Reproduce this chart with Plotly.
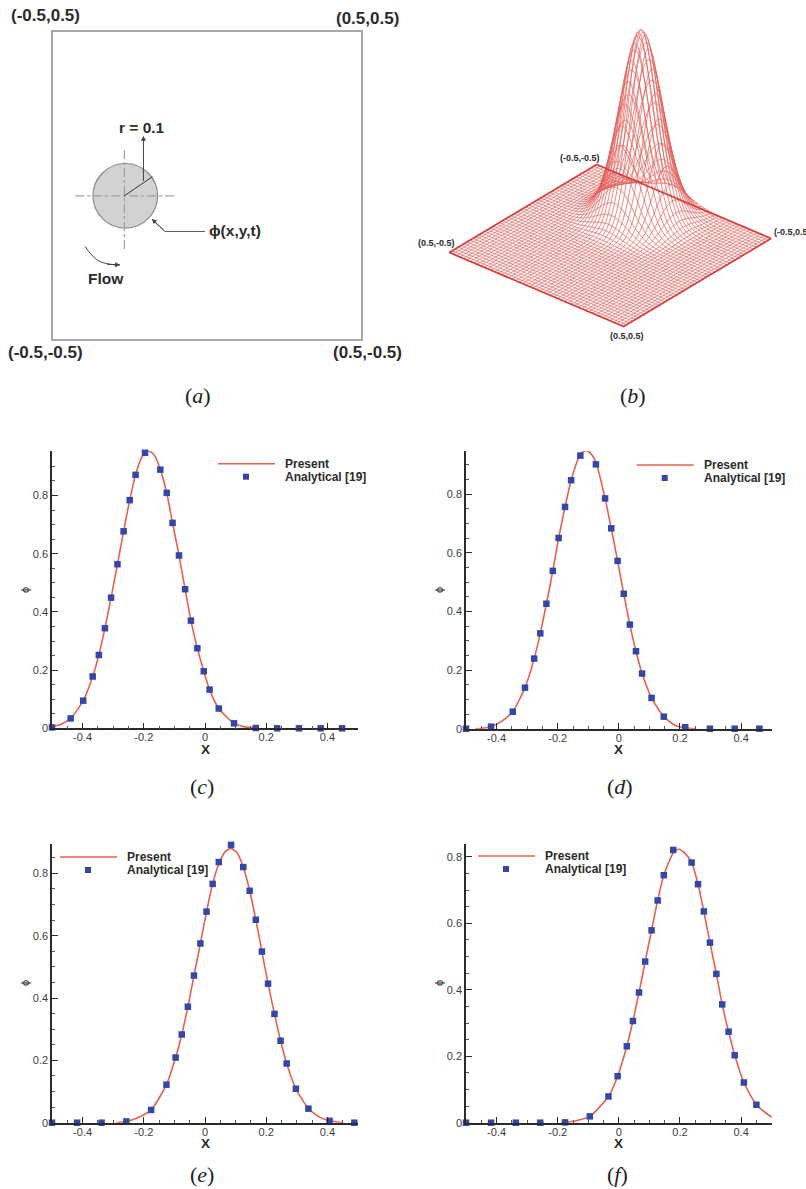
import numpy as np
import plotly.graph_objects as go

W, H = 806, 1189
SANS = "Liberation Sans"
SERIF = "Liberation Serif"
INK = "#2b2b2b"
RED = "#e8604c"
BLUE = "#3447a8"
WIRE = "#e4605a"
WIRE_EDGE = "#d93c3c"

# --- panel (c)
c_mx = [-0.5,-0.439,-0.398,-0.367,-0.347,-0.327,-0.307,-0.286,-0.266,-0.246,-0.227,-0.196,-0.146,-0.125,-0.106,-0.085,-0.065,-0.046,-0.025,-0.004,0.015,0.045,0.095,0.166,0.236,0.307,0.378,0.448]
c_my = [0.003,0.034,0.095,0.178,0.252,0.344,0.449,0.564,0.677,0.784,0.871,0.947,0.889,0.809,0.706,0.594,0.478,0.370,0.275,0.196,0.133,0.068,0.017,0.001,0,0,0,0]
c_lx = [-0.5,-0.47,-0.439,-0.398,-0.367,-0.347,-0.327,-0.307,-0.286,-0.266,-0.246,-0.227,-0.205,-0.183,-0.165,-0.146,-0.125,-0.106,-0.085,-0.065,-0.046,-0.025,-0.004,0.015,0.045,0.095,0.13,0.166]
c_ly = [0.005,0.014,0.034,0.095,0.178,0.252,0.344,0.449,0.564,0.677,0.784,0.871,0.935,0.953,0.938,0.889,0.809,0.706,0.594,0.478,0.370,0.275,0.196,0.133,0.068,0.017,0.005,0.001]

# --- panel (d)
d_mx = [-0.5,-0.418,-0.347,-0.307,-0.277,-0.257,-0.237,-0.216,-0.197,-0.176,-0.156,-0.126,-0.075,-0.045,-0.025,-0.004,0.016,0.036,0.056,0.076,0.107,0.147,0.217,0.298,0.379,0.460]
d_my = [0,0.007,0.058,0.140,0.239,0.325,0.426,0.538,0.650,0.756,0.847,0.931,0.901,0.785,0.683,0.572,0.460,0.355,0.264,0.188,0.105,0.041,0.005,0,0,0]
d_lx = [-0.47,-0.45,-0.418,-0.385,-0.347,-0.307,-0.277,-0.257,-0.237,-0.216,-0.197,-0.176,-0.156,-0.126,-0.115,-0.105,-0.09,-0.075,-0.045,-0.025,-0.004,0.016,0.036,0.056,0.076,0.107,0.147,0.185,0.217,0.25]
d_ly = [0,0.001,0.007,0.024,0.058,0.140,0.239,0.325,0.426,0.538,0.650,0.756,0.847,0.936,0.945,0.948,0.936,0.908,0.785,0.683,0.572,0.460,0.355,0.264,0.188,0.105,0.041,0.011,0.003,0]

# --- panel (e)
e_mx = [-0.5,-0.418,-0.338,-0.257,-0.176,-0.126,-0.096,-0.076,-0.056,-0.036,-0.015,0.005,0.025,0.045,0.085,0.125,0.146,0.166,0.186,0.206,0.227,0.247,0.267,0.297,0.338,0.407,0.488]
e_my = [0,0,0,0.004,0.041,0.122,0.209,0.283,0.372,0.472,0.575,0.677,0.766,0.836,0.891,0.820,0.744,0.651,0.549,0.446,0.349,0.263,0.190,0.109,0.045,0.006,0]
e_lx = [-0.29,-0.257,-0.22,-0.176,-0.126,-0.096,-0.076,-0.056,-0.036,-0.015,0.005,0.025,0.045,0.065,0.085,0.105,0.125,0.146,0.166,0.186,0.206,0.227,0.247,0.267,0.297,0.338,0.375,0.407,0.45]
e_ly = [0,0.004,0.016,0.041,0.122,0.209,0.283,0.372,0.472,0.575,0.677,0.766,0.830,0.868,0.880,0.866,0.820,0.744,0.651,0.549,0.446,0.349,0.263,0.190,0.109,0.045,0.017,0.006,0]

# --- panel (f)
f_mx = [-0.5,-0.418,-0.337,-0.257,-0.176,-0.095,-0.034,-0.004,0.026,0.046,0.066,0.086,0.107,0.127,0.147,0.178,0.238,0.259,0.278,0.298,0.319,0.338,0.359,0.379,0.409,0.450]
f_my = [0,0,0,0,0.001,0.019,0.079,0.140,0.230,0.306,0.392,0.485,0.579,0.669,0.745,0.821,0.783,0.718,0.636,0.542,0.448,0.356,0.274,0.203,0.121,0.054]
f_lx = [-0.19,-0.176,-0.14,-0.095,-0.034,-0.004,0.026,0.046,0.066,0.086,0.107,0.127,0.147,0.178,0.195,0.215,0.238,0.259,0.278,0.298,0.319,0.338,0.359,0.379,0.409,0.450,0.5]
f_ly = [0,0.001,0.006,0.019,0.079,0.140,0.230,0.306,0.392,0.485,0.579,0.669,0.745,0.812,0.823,0.812,0.783,0.718,0.636,0.542,0.448,0.356,0.274,0.203,0.121,0.054,0.016]

# --- panel (b): bell profile by grid step from the peak, read from the silhouette
bell = [1,0.977,0.912,0.812,0.691,0.561,0.435,0.322,0.228,0.154,0.099,0.061,0.036,0.020,0.011,0.0055,0.0027,0.0012,0.0006,0.0002]
grid_n = 51
peak_i, peak_j = 11, 22
u, v, w = (-147.4, 88.0), (174.3, 74.0), (0.0, -187.0)
origin = (610.2, 245.5)

def px(x):
    return x / W

def py(y):
    return 1 - y / H

def dom_x(a, b):
    return [px(a), px(b)]

def dom_y(top, bottom):
    return [py(bottom), py(top)]

def text(x, y, s, size=11, **kw):
    base = dict(x=px(x), y=py(y), xref="paper", yref="paper", text=s, showarrow=False,
                font=dict(family=SANS, size=size, color=INK), xanchor="center", yanchor="middle")
    base.update(kw)
    return base

fig = go.Figure()
panels = [
    ("x", "y", c_lx, c_ly, c_mx, c_my),
    ("x2", "y2", d_lx, d_ly, d_mx, d_my),
    ("x3", "y3", e_lx, e_ly, e_mx, e_my),
    ("x4", "y4", f_lx, f_ly, f_mx, f_my),
]
for xa, ya, lx, ly, mx, my in panels:
    fig.add_trace(go.Scatter(x=lx, y=ly, mode="lines", name="Present", xaxis=xa, yaxis=ya, showlegend=False,
                             line=dict(color=RED, width=1.6, shape="spline", smoothing=0.6), cliponaxis=False))
    fig.add_trace(go.Scatter(x=mx, y=my, mode="markers", name="Analytical [19]", xaxis=xa, yaxis=ya, showlegend=False,
                             marker=dict(color=BLUE, size=6.5, symbol="square"), cliponaxis=False))

# panel (a) schematic
def a_line(xs, ys, **kw):
    fig.add_trace(go.Scatter(x=xs, y=ys, mode="lines", xaxis="x5", yaxis="y5", showlegend=False, **kw))

a_line([-0.429, -0.104], [-0.033, -0.033], line=dict(color="#a0a0a0", width=1.2, dash="dashdot"))
a_line([-0.269, -0.269], [0.116, -0.209], line=dict(color="#a0a0a0", width=1.2, dash="dashdot"))
a_line([-0.269, -0.178], [-0.033, 0.029], line=dict(color="#333333", width=1))
a_line([-0.007, -0.137, -0.172], [-0.149, -0.149, -0.117], line=dict(color="#555555", width=1))
a_line([-0.397, -0.359, -0.325, -0.283], [-0.198, -0.241, -0.254, -0.258], line=dict(color="#444444", width=1, shape="spline"))

# panel (b) wireframe
idx = np.arange(grid_n)
gx = np.linspace(-0.5, 0.5, grid_n)
gy = np.linspace(-0.5, 0.5, grid_n)
bell_arr = np.array(bell)
def prof(center):
    d = np.abs(idx - center)
    return np.where(d < len(bell_arr), bell_arr[np.minimum(d, len(bell_arr) - 1)], 0.0)
Z = np.outer(prof(peak_i), prof(peak_j))
X, Y = np.meshgrid(gx, gy, indexing="ij")
SX = origin[0] + u[0] * X + v[0] * Y + w[0] * Z
SY = origin[1] + u[1] * X + v[1] * Y + w[1] * Z

def seg(a, b):
    xs, ys = [], []
    for i in range(a.shape[0]):
        xs += a[i].tolist() + [None]
        ys += b[i].tolist() + [None]
    return xs, ys
sx1, sy1 = seg(SX, SY)
sx2, sy2 = seg(SX.T, SY.T)
fig.add_trace(go.Scatter(x=sx1 + sx2, y=sy1 + sy2, mode="lines", xaxis="x6", yaxis="y6", showlegend=False,
                         line=dict(color=WIRE, width=0.75, shape="spline", smoothing=0.5)))
edge_x = [SX[0, 0], SX[-1, 0], SX[-1, -1], SX[0, -1], SX[0, 0]]
edge_y = [SY[0, 0], SY[-1, 0], SY[-1, -1], SY[0, -1], SY[0, 0]]
fig.add_trace(go.Scatter(x=edge_x, y=edge_y, mode="lines", xaxis="x6", yaxis="y6", showlegend=False,
                         line=dict(color=WIRE_EDGE, width=1.7)))

xticks = [-0.4, -0.2, 0, 0.2, 0.4]
xlabels = ["-0.4", "-0.2", "0", "0.2", "0.4"]
yticks = [0, 0.2, 0.4, 0.6, 0.8]
ylabels = ["0", "0.2", "0.4", "0.6", "0.8"]

def xaxis(a, b, anchor):
    return dict(domain=dom_x(a, b), anchor=anchor, range=[-0.5, 0.5], showgrid=False, zeroline=False,
                showline=True, linecolor=INK, linewidth=1.5, ticks="inside", ticklen=6, tickwidth=1.3,
                tickcolor=INK, tickvals=xticks, ticktext=xlabels, tickfont=dict(family=SANS, size=11, color="#3c3c3c"),
                ticklabelstandoff=-2,
                minor=dict(ticks="inside", ticklen=3, tickwidth=0.8, tickcolor="#555555", tickvals=[round(-0.45 + 0.05 * k, 2) for k in range(19)]))

def yaxis(top, bottom, ymax, anchor):
    return dict(domain=dom_y(top, bottom), anchor=anchor, range=[0, ymax], showgrid=False, zeroline=False,
                showline=True, linecolor=INK, linewidth=1.5, ticks="inside", ticklen=6, tickwidth=1.3,
                tickcolor=INK, tickvals=yticks, ticktext=ylabels, tickfont=dict(family=SANS, size=11, color="#3c3c3c"),
                minor=dict(ticks="inside", ticklen=3, tickwidth=0.8, tickcolor="#555555", tickvals=[round(0.05 * k, 2) for k in range(1, 19)]))

blank = dict(showgrid=False, zeroline=False, showticklabels=False, ticks="")

annos = []
for x, y, s in [(45, 16, "(-0.5,0.5)"), (367, 19, "(0.5,0.5)"), (45, 352, "(-0.5,-0.5)"), (367, 352, "(0.5,-0.5)")]:
    annos.append(text(x, y, f"<b>{s}</b>", size=17))
for x, y, s in [(142, 127, "r = 0.1"), (235, 231, "ϕ(x,y,t)"), (106, 279, "Flow")]:
    annos.append(text(x, y, f"<b>{s}</b>", size=15.5))
for x, y, s, anc in [(580, 158, "(-0.5,-0.5)", "center"), (437, 243, "(0.5,-0.5)", "center"), (627, 336, "(0.5,0.5)", "center"), (772, 232, "(-0.5,0.5)", "left")]:
    annos.append(text(x, y, f"<b>{s}</b>", size=9, xanchor=anc))
for x, y, s in [(198, 395, "a"), (633, 395, "b"), (202, 786, "c"), (620, 786, "d"), (202, 1174, "e"), (617, 1174, "f")]:
    annos.append(text(x, y, f"(<i>{s}</i>)", font=dict(family=SERIF, size=22, color="#222222")))
for x, y in [(25, 590), (439, 590), (25, 983), (439, 983)]:
    annos.append(text(x, y, "ϕ", textangle=-90, font=dict(family=SANS, size=11, color=INK)))
for x, y in [(205, 749), (618, 749), (205, 1143), (618, 1143)]:
    annos.append(text(x, y, "<b>X</b>", font=dict(family=SANS, size=13.5, color=INK)))

# hand-placed legends: the reference's row pitch is tighter than plotly's legend allows
shapes = [dict(type="circle", xref="x5", yref="y5", x0=-0.371, x1=-0.161, y0=-0.138, y1=0.072,
               fillcolor="#d2d2d2", line=dict(color="#8a8a8a", width=1.2), layer="below")]
for lx0, row1, row2 in [(218, 463.7, 476.7), (636.7, 465, 478), (60, 857, 870), (478, 856, 869)]:
    shapes.append(dict(type="line", xref="paper", yref="paper", x0=px(lx0), x1=px(lx0 + 57), y0=py(row1), y1=py(row1),
                       line=dict(color=RED, width=1.6)))
    mid = lx0 + 28
    shapes.append(dict(type="rect", xref="paper", yref="paper", x0=px(mid - 3), x1=px(mid + 3), y0=py(row2 + 3), y1=py(row2 - 3),
                       fillcolor=BLUE, line=dict(width=0)))
    annos.append(text(lx0 + 65, row1, "<b>Present</b>", size=12, xanchor="left"))
    annos.append(text(lx0 + 65, row2, "<b>Analytical [19]</b>", size=12, xanchor="left"))

def arrow(x, y, ax, ay):
    return dict(x=x, y=y, ax=ax, ay=ay, xref="x5", yref="y5", axref="x5", ayref="y5", text="", showarrow=True,
                arrowhead=2, arrowsize=1, arrowwidth=1, arrowcolor="#444444", standoff=0)
annos += [arrow(-0.207, 0.162, -0.207, 0.01), arrow(-0.180, -0.108, -0.137, -0.149), arrow(-0.283, -0.258, -0.33, -0.256)]

fig.update_layout(
    width=W, height=H, margin=dict(l=0, r=0, t=0, b=0, autoexpand=False), paper_bgcolor="white", plot_bgcolor="rgba(0,0,0,0)",
    showlegend=False,
    xaxis=xaxis(52, 358, "y"), yaxis=yaxis(451, 728.3, 0.953, "x"),
    xaxis2=xaxis(466, 771.7, "y2"), yaxis2=yaxis(451, 728.7, 0.9466, "x2"),
    xaxis3=xaxis(52, 358, "y3"), yaxis3=yaxis(844.3, 1122.7, 0.893, "x3"),
    xaxis4=xaxis(466, 771.7, "y4"), yaxis4=yaxis(844.3, 1122.7, 0.838, "x4"),
    xaxis5=dict(domain=dom_x(53.3, 361), anchor="y5", range=[-0.5, 0.5], showline=True, mirror=True, linecolor="#a8a8a8", linewidth=1.5, **blank),
    yaxis5=dict(domain=dom_y(32, 339.3), anchor="x5", range=[-0.5, 0.5], showline=True, mirror=True, linecolor="#a8a8a8", linewidth=1.5, **blank),
    xaxis6=dict(domain=dom_x(400, 806), anchor="y6", range=[400, 806], showline=False, **blank),
    yaxis6=dict(domain=dom_y(0, 400), anchor="x6", range=[400, 0], showline=False, **blank),
    annotations=annos,
    shapes=shapes,
)
fig.write_html("out.html", config=dict(displayModeBar=False),
               post_script="document.body.style.margin='0';")
